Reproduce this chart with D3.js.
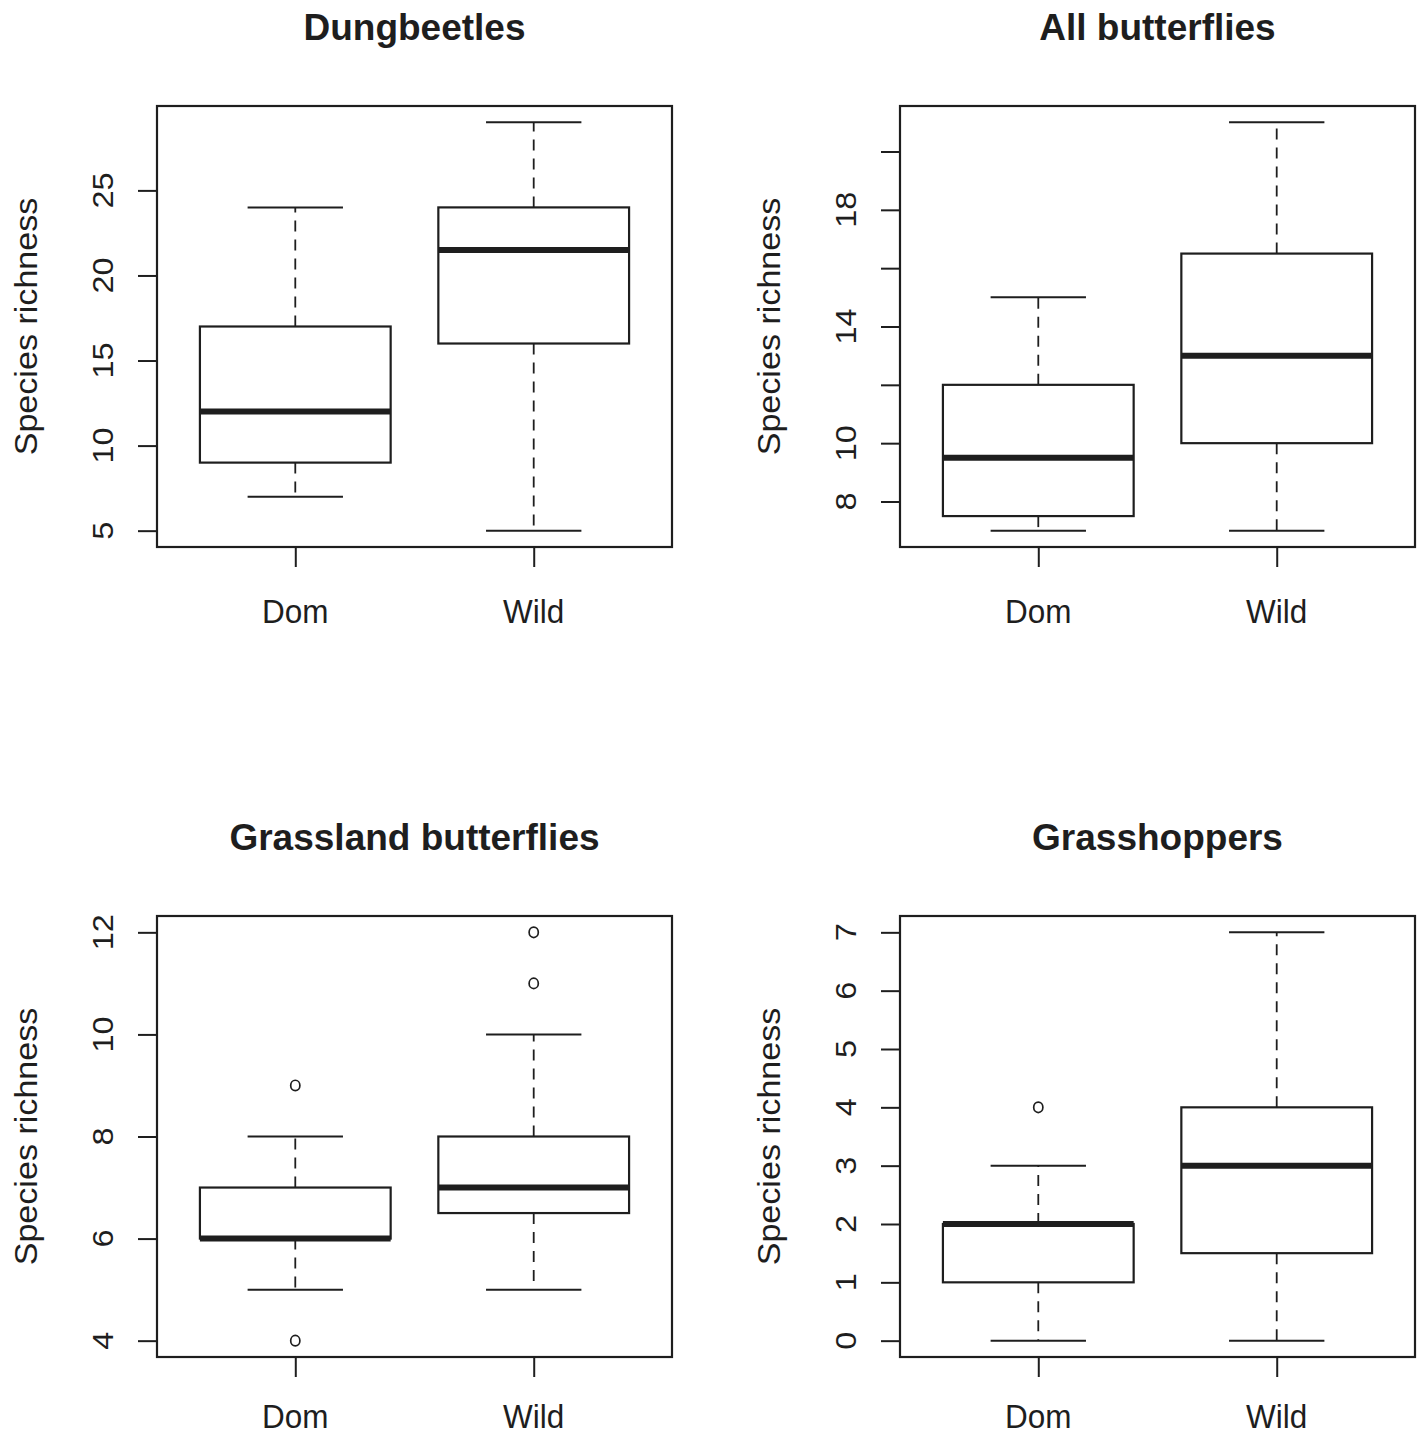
<!DOCTYPE html>
<html>
<head>
<meta charset="utf-8">
<script src="https://cdn.jsdelivr.net/npm/d3@7"></script>
<style>
  html, body { margin: 0; padding: 0; background: #ffffff; }
  svg { display: block; }
  text { font-family: "Liberation Sans", Arial, Helvetica, sans-serif; fill: #1e1e1e; }
</style>
</head>
<body>
<div id="chart"></div>
<script>
// ---------------- DATA ----------------
const titles = ["Dungbeetles", "All butterflies", "Grassland butterflies", "Grasshoppers"];
const groups = ["Dom", "Wild"];
const yLabel = "Species richness";

// five-number summaries per group: [lower whisker, Q1, median, Q3, upper whisker]
const dungbeetlesStats = [[7, 9, 12, 17, 24], [5, 16, 21.5, 24, 29]];
const allButterfliesStats = [[7, 7.5, 9.5, 12, 15], [7, 10, 13, 16.5, 21]];
const grasslandStats = [[5, 6, 6, 7, 8], [5, 6.5, 7, 8, 10]];
const grasshoppersStats = [[0, 1, 2, 2, 3], [0, 1.5, 3, 4, 7]];

// outliers per group
const dungbeetlesOut = [[], []];
const allButterfliesOut = [[], []];
const grasslandOut = [[4, 9], [11, 12]];
const grasshoppersOut = [[4], []];

// y-axis ticks and their labels
const dungbeetlesTicks = [5, 10, 15, 20, 25];
const dungbeetlesTickLabels = ["5", "10", "15", "20", "25"];
const allButterfliesTicks = [8, 10, 12, 14, 16, 18, 20];
const allButterfliesTickLabels = ["8", "10", "", "14", "", "18", ""];
const grasslandTicks = [4, 6, 8, 10, 12];
const grasslandTickLabels = ["4", "6", "8", "10", "12"];
const grasshoppersTicks = [0, 1, 2, 3, 4, 5, 6, 7];
const grasshoppersTickLabels = ["0", "1", "2", "3", "4", "5", "6", "7"];

const panelStats = [dungbeetlesStats, allButterfliesStats, grasslandStats, grasshoppersStats];
const panelOut = [dungbeetlesOut, allButterfliesOut, grasslandOut, grasshoppersOut];
const panelTicks = [dungbeetlesTicks, allButterfliesTicks, grasslandTicks, grasshoppersTicks];
const panelTickLabels = [dungbeetlesTickLabels, allButterfliesTickLabels, grasslandTickLabels, grasshoppersTickLabels];

// ---------------- LAYOUT ----------------
const W = 1421, H = 1437;
const lefts = [157, 900], tops = [106, 916];
const pw = 515, ph = 441;
const sy = 1.08;             // slight vertical stretch of the original axis texts
const ink = "#1e1e1e";

const svg = d3.select("#chart").append("svg").attr("width", W).attr("height", H);

panelStats.forEach((stats, i) => {
  const left = lefts[i % 2], top = tops[Math.floor(i / 2)];
  const g = svg.append("g").attr("transform", `translate(${left},${top})`);

  // scales (R-style 4% extension)
  const n = groups.length;
  const x = d3.scaleLinear().domain([0.5 - 0.04 * n, n + 0.5 + 0.04 * n]).range([0, pw]);
  const allVals = stats.flat().concat(panelOut[i].flat());
  const lo = d3.min(allVals), hi = d3.max(allVals);
  const ext = 0.04 * (hi - lo);
  const y = d3.scaleLinear().domain([lo - ext, hi + ext]).range([ph, 0]);

  const boxW = 0.8, capW = 0.4;

  stats.forEach((s, j) => {
    const cx = j + 1;
    const [wl, q1, med, q3, wh] = s;
    // whiskers (dashed)
    g.append("line").attr("x1", x(cx)).attr("x2", x(cx)).attr("y1", y(q3)).attr("y2", y(wh))
      .attr("stroke", ink).attr("stroke-width", 1.8).attr("stroke-dasharray", "11,8");
    g.append("line").attr("x1", x(cx)).attr("x2", x(cx)).attr("y1", y(q1)).attr("y2", y(wl))
      .attr("stroke", ink).attr("stroke-width", 1.8).attr("stroke-dasharray", "11,8");
    // caps
    [wl, wh].forEach(v => {
      g.append("line").attr("x1", x(cx - capW / 2)).attr("x2", x(cx + capW / 2))
        .attr("y1", y(v)).attr("y2", y(v)).attr("stroke", ink).attr("stroke-width", 2);
    });
    // box
    g.append("rect").attr("x", x(cx - boxW / 2)).attr("width", x(cx + boxW / 2) - x(cx - boxW / 2))
      .attr("y", y(q3)).attr("height", y(q1) - y(q3))
      .attr("fill", "white").attr("stroke", ink).attr("stroke-width", 2.2);
    // median
    g.append("line").attr("x1", x(cx - boxW / 2)).attr("x2", x(cx + boxW / 2))
      .attr("y1", y(med)).attr("y2", y(med)).attr("stroke", ink).attr("stroke-width", 6);
    // outliers
    panelOut[i][j].forEach(v => {
      g.append("ellipse").attr("cx", x(cx)).attr("cy", y(v)).attr("rx", 4.6).attr("ry", 5.2)
        .attr("fill", "none").attr("stroke", ink).attr("stroke-width", 1.7);
    });
  });

  // frame
  g.append("rect").attr("x", 0).attr("y", 0).attr("width", pw).attr("height", ph)
    .attr("fill", "none").attr("stroke", ink).attr("stroke-width", 2.2);

  // y axis ticks via d3 axis
  const yAxis = d3.axisLeft(y).tickValues(panelTicks[i]).tickSize(19).tickFormat("");
  const ya = g.append("g").call(yAxis);
  ya.select(".domain").remove();
  ya.selectAll(".tick line").attr("stroke", ink).attr("stroke-width", 2);
  panelTicks[i].forEach((t, k) => {
    const lab = panelTickLabels[i][k];
    if (!lab) return;
    g.append("text").attr("transform", `translate(${-44},${y(t)}) scale(1,${sy}) rotate(-90)`)
      .attr("text-anchor", "middle").attr("font-size", 30).text(lab);
  });

  // x axis ticks via d3 axis
  const xAxis = d3.axisBottom(x).tickValues(groups.map((d, k) => k + 1)).tickSize(20).tickFormat("");
  const xa = g.append("g").attr("transform", `translate(0,${ph})`).call(xAxis);
  xa.select(".domain").remove();
  xa.selectAll(".tick line").attr("stroke", ink).attr("stroke-width", 2);
  const labY = Math.min(ph + 76, H - top - 9);
  groups.forEach((gr, k) => {
    g.append("text").attr("transform", `translate(${x(k + 1)},${labY}) scale(1,${sy})`)
      .attr("text-anchor", "middle").attr("font-size", 31.5).text(gr);
  });

  // y label
  g.append("text").attr("transform", `translate(${-120},${ph / 2}) scale(1,1.1) rotate(-90)`)
    .attr("text-anchor", "middle").attr("font-size", 31).text(yLabel);

  // title
  g.append("text").attr("x", pw / 2).attr("y", -66.5)
    .attr("text-anchor", "middle").attr("font-size", 37).attr("font-weight", "bold").text(titles[i]);
});
</script>
</body>
</html>
